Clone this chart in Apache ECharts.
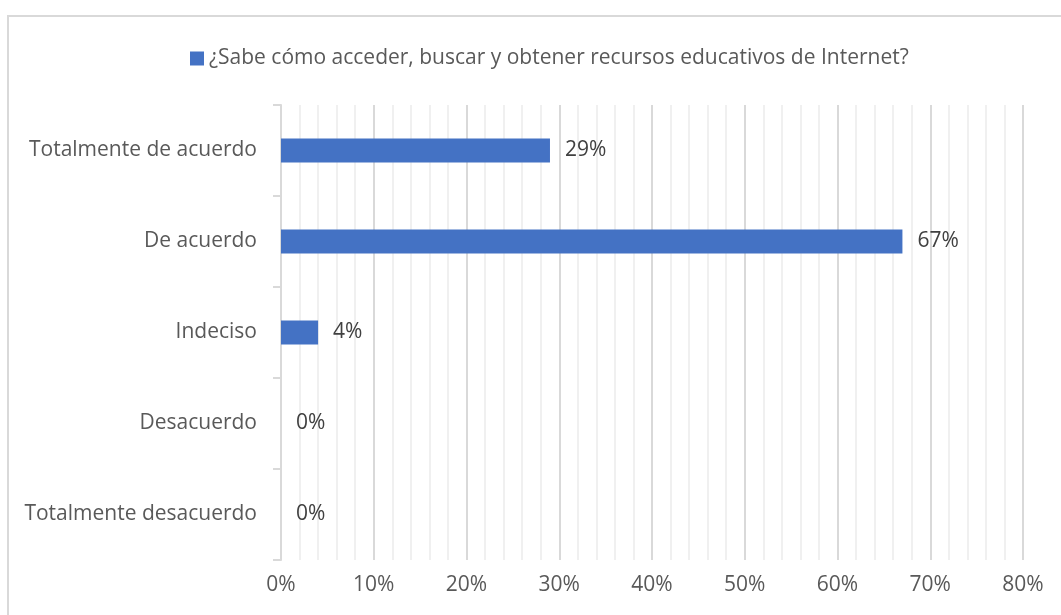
<!DOCTYPE html>
<html>
<head>
<meta charset="utf-8">
<script src="https://cdn.jsdelivr.net/npm/echarts@6/dist/echarts.min.js"></script>
<style>
html, body { margin: 0; padding: 0; background: #fff; }
#frame { position: absolute; left: 7px; top: 15px; width: 1070px; height: 620px; border: 2px solid #d9d9d9; box-sizing: border-box; }
#chart { position: absolute; left: 0; top: 0; width: 1061px; height: 615px; }
</style>
</head>
<body>
<div id="frame"></div>
<div id="chart"></div>
<script>
// categories top to bottom
const categories = ['Totalmente de acuerdo', 'De acuerdo', 'Indeciso', 'Desacuerdo', 'Totalmente desacuerdo']
const values = [29, 67, 4, 0, 0]
const seriesName = '¿Sabe cómo acceder, buscar y obtener recursos educativos de Internet?'

const font = '"Open Sans", sans-serif'
const chart = echarts.init(document.getElementById('chart'))

chart.setOption({
  animation: false,
  textStyle: { fontFamily: font },
  legend: {
    top: 43,
    left: 185,
    itemWidth: 14,
    itemHeight: 14,
    itemGap: 6,
    icon: 'rect',
    textStyle: { fontSize: 21, color: '#595959', fontFamily: font },
    data: [seriesName]
  },
  grid: { left: 281, right: 38, top: 105, bottom: 55 },
  xAxis: {
    type: 'value',
    min: 0,
    max: 80,
    interval: 10,
    axisLine: { show: false },
    axisTick: { show: false },
    axisLabel: { formatter: '{value}%', fontSize: 21, color: '#595959', margin: 15, fontFamily: font },
    splitLine: { show: true, lineStyle: { color: '#d9d9d9', width: 2 } },
    minorTick: { show: false, splitNumber: 5 },
    minorSplitLine: { show: true, lineStyle: { color: '#f0f0f0', width: 2 } }
  },
  yAxis: {
    type: 'category',
    inverse: true,
    data: categories,
    axisLine: { show: true, lineStyle: { color: '#d9d9d9', width: 2 } },
    axisTick: { show: true, length: 8, lineStyle: { color: '#d9d9d9', width: 2 } },
    axisLabel: { fontSize: 21, color: '#595959', margin: 24, fontFamily: font }
  },
  series: [{
    name: seriesName,
    type: 'bar',
    data: values,
    barWidth: 24,
    itemStyle: { color: '#4472C4' },
    label: {
      show: true,
      position: 'right',
      distance: 15,
      formatter: '{c}%',
      fontSize: 21,
      color: '#404040',
      fontFamily: font
    }
  }]
})
</script>
</body>
</html>
